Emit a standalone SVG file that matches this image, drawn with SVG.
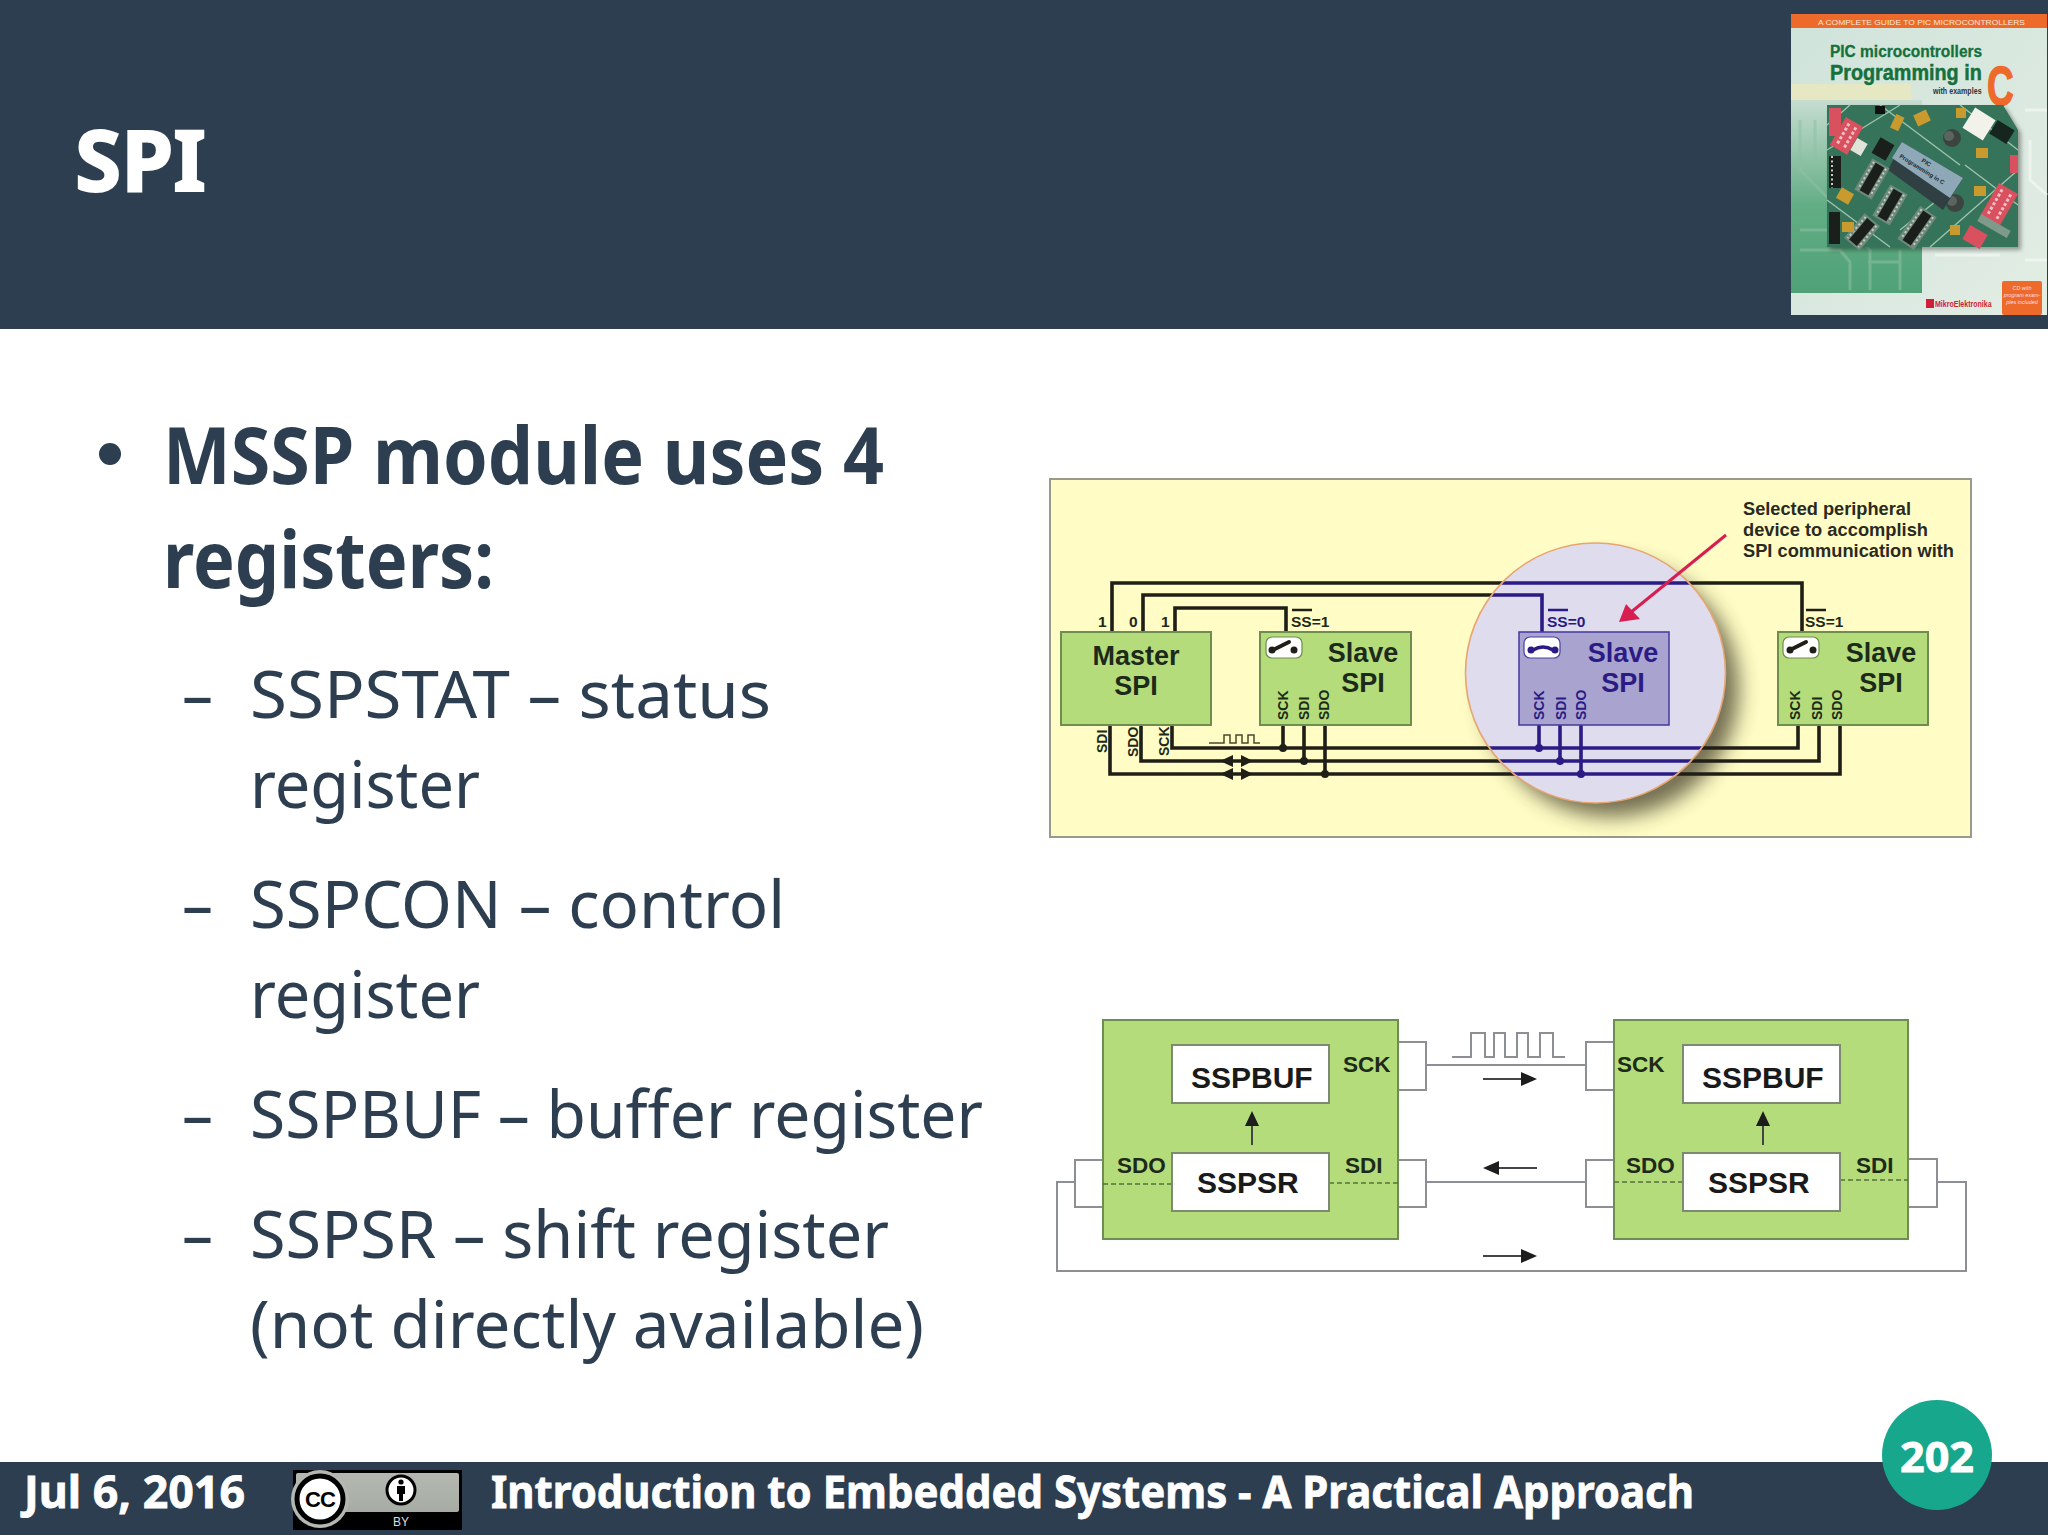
<svg xmlns="http://www.w3.org/2000/svg" xmlns:xlink="http://www.w3.org/1999/xlink" width="2048" height="1535" viewBox="0 0 2048 1535">
<style>
.sl{font-family:"Noto Sans","Open Sans",sans-serif;fill:#2c3e50}
.h{font-size:78px;font-weight:700}
.s{font-size:65px}
.ft{font-family:"Noto Sans","Open Sans",sans-serif;font-weight:700;fill:#fff;font-size:45px;stroke:#fff;stroke-width:.8px}
.a{font-family:"Liberation Sans",Arial,sans-serif;font-weight:700;fill:#1d2a1a}
.blk{fill:none;stroke:#1f1f17;stroke-width:3.6}
.blu{fill:none;stroke:#2b1b85;stroke-width:3.6}
.g{fill:#b5dc7a;stroke:#6e8d50;stroke-width:2}
.t27{font-size:27px;text-anchor:middle}
.t14{font-size:14px}
.t15{font-size:15.5px}
.t30{font-size:30px}
.t22{font-size:22.5px}
.wb{fill:#fff;stroke:#7d8a70;stroke-width:2}
.gl{fill:none;stroke:#8c9094;stroke-width:2}
.dl{fill:none;stroke:#55703a;stroke-width:1.6;stroke-dasharray:5 3}
.ar{fill:none;stroke:#444;stroke-width:2}
.hd{fill:#1d1d1d}
.sw{fill:#fff;stroke:#6e8d50;stroke-width:1.2}
.kn{fill:none;stroke:#1f1f17;stroke-width:4;stroke-linecap:round}
.dot{fill:#1f1f17}
.ic{fill:#1b1f1c}
.pin{fill:none;stroke:#c8ccc0;stroke-width:2;stroke-dasharray:2 2.5}
.rd{fill:#d9505f}
.sock{fill:#6f8a7c}
.yl{fill:#c99a2e}
.kb{fill:#3c4440}
.tr{fill:none;stroke:#8fc0a4;stroke-width:3;opacity:.55}
.bk{font-family:"Liberation Sans",Arial,sans-serif;font-weight:700}
</style>
<defs>
<path id="wires" d="M1112 632V583H1802V632M1143 632V595H1542V632M1175 632V608H1286V632M1172 725V748H1798V725M1141 725V761H1819V725M1110 725V774H1840V725M1283 725V748M1304 725V761M1325 725V774M1539 725V748M1560 725V761M1581 725V774"/>
<clipPath id="lensClip"><circle cx="1595.5" cy="673" r="129"/></clipPath>
<filter id="blur" x="-30%" y="-30%" width="160%" height="160%"><feGaussianBlur stdDeviation="10"/></filter>
<filter id="soft" x="-5%" y="-5%" width="110%" height="110%"><feGaussianBlur stdDeviation="2"/></filter>
<linearGradient id="bookBg" x1="0" y1="0" x2="1" y2="1"><stop offset="0" stop-color="#cfe3da"/><stop offset="1" stop-color="#e3ede4"/></linearGradient>
<linearGradient id="bookGreen" x1="0" y1="0" x2="0" y2="1"><stop offset="0" stop-color="#c6ddd0"/><stop offset="0.55" stop-color="#62ad84"/><stop offset="1" stop-color="#4fa177"/></linearGradient>
<linearGradient id="badgeGrad" x1="0" y1="0" x2="0" y2="1"><stop offset="0" stop-color="#b4b8b0"/><stop offset="1" stop-color="#a6aca4"/></linearGradient>
</defs>

<rect width="2048" height="1535" fill="#fff"/>
<rect id="header" width="2048" height="329" fill="#2c3e50"/>
<text class="ft" x="75" y="191" style="font-size:84px;stroke-width:2px" textLength="131" lengthAdjust="spacingAndGlyphs">SPI</text>

<g id="book">
<rect x="1791" y="14" width="256" height="301" fill="url(#bookBg)"/>
<rect x="1791" y="100" width="131" height="193" fill="url(#bookGreen)"/>
<path d="M1800 120V170L1830 200M1815 120V160M1800 230H1850L1870 250V290M1800 250H1840L1850 262V290M1868 262H1900M1900 250V290" class="tr"/>
<path d="M2025 110H2047M2030 140V180L2047 195M2025 260H2047M1935 255H2000" fill="none" stroke="#f4f8f4" stroke-width="3" opacity=".7"/>
<rect x="1791" y="84" width="120" height="16" fill="#e6e8c4"/>
<rect x="1791" y="14" width="256" height="14" fill="#ee6a2a"/>
<text class="bk" x="1818" y="25" font-size="8" fill="#f6e8d8" style="font-weight:400" textLength="207" lengthAdjust="spacingAndGlyphs">A COMPLETE GUIDE TO PIC MICROCONTROLLERS</text>
<text transform="translate(1830 57) scale(.91 1)" class="bk" font-size="17" fill="#15703c" stroke="#15703c" stroke-width=".3">PIC microcontrollers</text>
<text transform="translate(1830 79.5) scale(.88 1)" class="bk" font-size="22.5" fill="#15703c" stroke="#15703c" stroke-width=".5">Programming in</text>
<text transform="translate(1933 94) scale(.79 1)" class="bk" font-size="9" fill="#333">with examples</text>
<text transform="translate(1987 105) scale(.66 1)" class="bk" font-size="56" fill="#ee6a2a" stroke="#ee6a2a" stroke-width="1.5">C</text>
<polygon points="1827,105 2003,105 2018,130 2018,247 1827,247" fill="#000" opacity=".35" transform="translate(3,3)" filter="url(#soft)"/>
<polygon points="1827,105 2003,105 2018,130 2018,247 1827,247" fill="#35745a"/>
<g id="pcb">
<path d="M1827 150L1900 105M1880 105L1960 165M1960 105L2018 150M1827 200L1890 247M1930 247L2018 170M1850 105L1827 125M1965 165L2018 205M1900 230L1950 190" fill="none" stroke="#9cc4ac" stroke-width="1.4"/>
<rect x="1893" y="115" width="9" height="15" class="yl" transform="rotate(25 1897 122)"/>
<rect x="1915" y="112" width="14" height="12" class="yl" transform="rotate(-25 1922 118)"/>
<rect x="1956" y="108" width="10" height="10" class="yl"/>
<rect x="1967" y="112" width="24" height="24" fill="#f2f2ea" transform="rotate(32 1979 124)"/>
<rect x="1992" y="124" width="20" height="16" fill="#16261e" transform="rotate(32 2002 132)"/>
<rect x="1829" y="108" width="12" height="28" class="rd"/>
<g transform="rotate(30 1847 135)"><rect x="1837" y="120" width="20" height="32" class="rd"/><path d="M1843 124V148M1851 124V148" stroke="#f3c0c4" stroke-width="3" stroke-dasharray="3 2"/></g>
<rect x="1853" y="140" width="12" height="14" fill="#dfe3d8" transform="rotate(30 1859 147)"/>
<rect x="1875" y="106" width="10" height="8" fill="#111"/>
<circle cx="1952" cy="138" r="9" class="kb"/><circle cx="1949" cy="136" r="5" fill="#5c6460"/>
<circle cx="1955" cy="203" r="9" class="kb"/><circle cx="1952" cy="201" r="5" fill="#5c6460"/>
<polygon points="1902,142 1963,178 1943,210 1888,170" fill="#2f3f42"/>
<polygon points="1902,142 1963,178 1950,198 1892,158" fill="#8ea8b8"/>
<g transform="rotate(30 1872 179)"><rect x="1862" y="161" width="20" height="36" class="sock"/><rect x="1867" y="163" width="10" height="32" class="ic"/><path d="M1865 163V195M1879 163V195" class="pin"/></g>
<g transform="rotate(30 1890 205)"><rect x="1880" y="187" width="20" height="36" class="sock"/><rect x="1885" y="189" width="10" height="32" class="ic"/><path d="M1883 189V221M1897 189V221" class="pin"/></g>
<g transform="rotate(35 1917 228)"><rect x="1907" y="208" width="20" height="40" class="sock"/><rect x="1912" y="210" width="10" height="36" class="ic"/><path d="M1910 210V246M1924 210V246" class="pin"/></g>
<g transform="rotate(40 1862 232)"><rect x="1852" y="216" width="20" height="32" class="sock"/><rect x="1857" y="218" width="10" height="28" class="ic"/><path d="M1855 218V246M1869 218V246" class="pin"/></g>
<rect x="1829" y="156" width="12" height="32" class="ic"/><path d="M1832 156V188" class="pin"/>
<rect x="1829" y="212" width="11" height="32" class="ic"/>
<rect x="1875" y="140" width="16" height="18" class="ic" transform="rotate(30 1883 149)"/>
<g transform="rotate(30 1999 205)"><rect x="1988" y="186" width="22" height="38" class="rd"/><path d="M1994 190V220M2004 190V220" stroke="#f3c0c4" stroke-width="3" stroke-dasharray="3 2"/></g>
<rect x="1965" y="229" width="20" height="16" class="rd" transform="rotate(30 1975 237)"/>
<rect x="1977" y="222" width="34" height="8" fill="#7f9a8a" transform="rotate(30 1994 226)"/>
<rect x="2010" y="155" width="8" height="18" class="rd"/>
<rect x="1976" y="148" width="12" height="10" class="yl"/>
<rect x="1838" y="190" width="14" height="12" class="yl" transform="rotate(30 1845 196)"/>
<rect x="1842" y="222" width="12" height="10" class="yl"/>
<rect x="1974" y="186" width="12" height="10" class="yl"/>
<rect x="1950" y="225" width="10" height="10" class="yl"/>
</g>
<g transform="rotate(32 1921 171)"><text class="bk" x="1921" y="163" font-size="6" text-anchor="middle" fill="#1c2a30">PIC</text><text class="bk" x="1921" y="171" font-size="6" text-anchor="middle" fill="#1c2a30">Programming in C</text></g>
<rect x="1926" y="299" width="8" height="9" fill="#d01e38"/>
<text transform="translate(1935 307) scale(.74 1)" class="bk" font-size="9.5" fill="#d01e38">MikroElektronika</text>
<rect x="2002" y="281" width="40" height="34" rx="2" fill="#ee6a2a"/>
<g class="bk" font-size="5.4" fill="#fde" font-style="italic" text-anchor="middle" style="font-weight:400"><text x="2022" y="290">CD with</text><text x="2022" y="297">program exam-</text><text x="2022" y="304">ples included</text></g>
</g>

<g id="bullets">
<circle cx="110" cy="454" r="11" fill="#2c3e50"/>
<text class="sl h" x="163" y="484" textLength="721" lengthAdjust="spacingAndGlyphs">MSSP module uses 4</text>
<text class="sl h" x="163" y="588" textLength="331" lengthAdjust="spacingAndGlyphs">registers:</text>
<text class="sl s" x="182" y="718" textLength="31" lengthAdjust="spacingAndGlyphs">–</text>
<text class="sl s" x="250" y="718" textLength="521" lengthAdjust="spacingAndGlyphs">SSPSTAT – status</text>
<text class="sl s" x="250" y="808" textLength="230" lengthAdjust="spacingAndGlyphs">register</text>
<text class="sl s" x="182" y="928" textLength="31" lengthAdjust="spacingAndGlyphs">–</text>
<text class="sl s" x="250" y="928" textLength="535" lengthAdjust="spacingAndGlyphs">SSPCON – control</text>
<text class="sl s" x="250" y="1018" textLength="230" lengthAdjust="spacingAndGlyphs">register</text>
<text class="sl s" x="182" y="1138" textLength="31" lengthAdjust="spacingAndGlyphs">–</text>
<text class="sl s" x="250" y="1138" textLength="733" lengthAdjust="spacingAndGlyphs">SSPBUF – buffer register</text>
<text class="sl s" x="182" y="1258" textLength="31" lengthAdjust="spacingAndGlyphs">–</text>
<text class="sl s" x="250" y="1258" textLength="639" lengthAdjust="spacingAndGlyphs">SSPSR – shift register</text>
<text class="sl s" x="250" y="1348" textLength="674" lengthAdjust="spacingAndGlyphs">(not directly available)</text>
</g>

<g id="spi-selection">
<rect x="1050" y="479" width="921" height="358" fill="#fffdc5" stroke="#9a9a8c" stroke-width="2"/>
<circle cx="1611" cy="689" r="128" fill="#3a3520" opacity=".7" filter="url(#blur)"/>
<g id="connectors-top"><use xlink:href="#wires" href="#wires" class="blk"/>
<path d="M1209 743H1224V735H1230V743H1236V735H1242V743H1248V735H1254V743H1260" fill="none" stroke="#4a4a30" stroke-width="1.5"/>
<polygon points="1220,761 1233,755 1233,767" class="dot"/><polygon points="1253,761 1241,755 1241,767" class="dot"/>
<polygon points="1220,774 1233,768 1233,780" class="dot"/><polygon points="1253,774 1241,768 1241,780" class="dot"/>
<circle cx="1283" cy="748" r="4" class="dot"/><circle cx="1304" cy="761" r="4" class="dot"/><circle cx="1325" cy="774" r="4" class="dot"/>
</g>
<circle id="lens" cx="1595.5" cy="673" r="130" fill="#dfdcee" stroke="#e8a56f" stroke-width="1.6"/>
<g id="connectors-selected" clip-path="url(#lensClip)"><use xlink:href="#wires" href="#wires" class="blu"/>
<circle cx="1539" cy="748" r="4" fill="#2b1b85"/><circle cx="1560" cy="761" r="4" fill="#2b1b85"/><circle cx="1581" cy="774" r="4" fill="#2b1b85"/></g>

<g id="master-spi"><rect x="1061" y="632" width="150" height="93" class="g"/>
<text class="a t27" x="1136" y="665">Master</text><text class="a t27" x="1136" y="695">SPI</text>
<g class="a t15"><text x="1098" y="627">1</text><text x="1129" y="627">0</text><text x="1161" y="627">1</text></g>
<g class="a t14"><text transform="translate(1107 753) rotate(-90)">SDI</text><text transform="translate(1138 757) rotate(-90)">SDO</text><text transform="translate(1169 756) rotate(-90)">SCK</text></g></g>

<g id="slave-1"><rect x="1260" y="632" width="151" height="93" class="g"/>
<text class="a t27" x="1363" y="662">Slave</text><text class="a t27" x="1363" y="692">SPI</text>
<rect x="1266" y="637" width="36" height="21" rx="6" class="sw"/><path d="M1273 650L1289 642" class="kn"/><circle cx="1272" cy="650" r="3.5" class="dot"/><circle cx="1294" cy="650" r="3.5" class="dot"/>
<g class="a t14"><text transform="translate(1288 720) rotate(-90)">SCK</text><text transform="translate(1309 720) rotate(-90)">SDI</text><text transform="translate(1329 720) rotate(-90)">SDO</text></g>
<text class="a t15" x="1291" y="627">SS=1</text><path d="M1292 610H1312" stroke="#1f1f17" stroke-width="2.5"/></g>

<g id="slave-2"><rect x="1519" y="632" width="150" height="93" fill="#a9a3cf" stroke="#4a40a0" stroke-width="1.6"/>
<text class="a t27" x="1623" y="662" style="fill:#2b1b85">Slave</text><text class="a t27" x="1623" y="692" style="fill:#2b1b85">SPI</text>
<rect x="1524" y="637" width="36" height="21" rx="6" fill="#fff" stroke="#4a40a0" stroke-width="1.2"/><path d="M1533 650Q1543 644 1553 650" fill="none" stroke="#2b1b85" stroke-width="3.5"/><circle cx="1531" cy="650" r="3.5" fill="#2b1b85"/><circle cx="1555" cy="650" r="3.5" fill="#2b1b85"/>
<g class="a t14"><text transform="translate(1544 720) rotate(-90)" style="fill:#2b1b85">SCK</text><text transform="translate(1566 720) rotate(-90)" style="fill:#2b1b85">SDI</text><text transform="translate(1586 720) rotate(-90)" style="fill:#2b1b85">SDO</text></g>
<text class="a t15" x="1547" y="627" style="fill:#2b1b85">SS=0</text><path d="M1548 610H1568" stroke="#2b1b85" stroke-width="2.5"/></g>

<g id="slave-3"><rect x="1778" y="632" width="150" height="93" class="g"/>
<text class="a t27" x="1881" y="662">Slave</text><text class="a t27" x="1881" y="692">SPI</text>
<rect x="1783" y="637" width="36" height="21" rx="6" class="sw"/><path d="M1790 650L1806 642" class="kn"/><circle cx="1790" cy="650" r="3.5" class="dot"/><circle cx="1813" cy="650" r="3.5" class="dot"/>
<g class="a t14"><text transform="translate(1800 720) rotate(-90)">SCK</text><text transform="translate(1822 720) rotate(-90)">SDI</text><text transform="translate(1842 720) rotate(-90)">SDO</text></g>
<text class="a t15" x="1805" y="627">SS=1</text><path d="M1806 610H1826" stroke="#1f1f17" stroke-width="2.5"/></g>

<g id="note"><g class="a" font-size="17.5" style="fill:#2a2a20"><text x="1743" y="515" textLength="168" lengthAdjust="spacingAndGlyphs">Selected peripheral</text><text x="1743" y="536" textLength="185" lengthAdjust="spacingAndGlyphs">device to accomplish</text><text x="1743" y="557" textLength="211" lengthAdjust="spacingAndGlyphs">SPI communication with</text></g>
<path d="M1726 535L1630 613" stroke="#d81e50" stroke-width="3" fill="none"/><polygon points="1619,622 1626,604 1640,619" fill="#d81e50"/></g>
</g>

<g id="connectors-bottom">
<path d="M1426 1065H1586M1426 1182H1586M1075 1182H1057V1271H1966V1182H1937" class="gl"/>
<path d="M1452 1057H1471V1033H1485V1057H1494V1033H1505V1057H1517V1033H1528V1057H1540V1033H1553V1057H1565" fill="none" stroke="#8c9094" stroke-width="2"/>
<path d="M1398 1042H1426V1090H1398M1398 1160H1426V1207H1398M1103 1160H1075V1207H1103M1614 1042H1586V1090H1614M1614 1160H1586V1207H1614M1908 1159H1937V1207H1908" class="gl"/>
<path d="M1483 1079H1525M1495 1168H1537M1483 1256H1525" class="ar"/>
<polygon points="1537,1079 1521,1072 1521,1086" class="hd"/>
<polygon points="1483,1168 1499,1161 1499,1175" class="hd"/>
<polygon points="1537,1256 1521,1249 1521,1263" class="hd"/>
</g>

<g id="device-left"><rect x="1103" y="1020" width="295" height="219" class="g"/>
<path d="M1103 1184H1172M1329 1183H1398" class="dl"/>
<rect x="1172" y="1045" width="157" height="58" class="wb"/><rect x="1172" y="1153" width="157" height="58" class="wb"/>
<path d="M1252 1145V1120" stroke="#444" stroke-width="2"/><polygon points="1252,1111 1245,1126 1259,1126" class="hd"/>
<g class="a t30" style="fill:#1a1a1a"><text x="1191" y="1088">SSPBUF</text><text x="1197" y="1193">SSPSR</text></g>
<g class="a t22"><text x="1343" y="1072">SCK</text><text x="1117" y="1173">SDO</text><text x="1345" y="1173">SDI</text></g></g>

<g id="device-right"><rect x="1614" y="1020" width="294" height="219" class="g"/>
<path d="M1614 1182H1683M1840 1180H1908" class="dl"/>
<rect x="1683" y="1045" width="157" height="58" class="wb"/><rect x="1683" y="1153" width="157" height="58" class="wb"/>
<path d="M1763 1145V1120" stroke="#444" stroke-width="2"/><polygon points="1763,1111 1756,1126 1770,1126" class="hd"/>
<g class="a t30" style="fill:#1a1a1a"><text x="1702" y="1088">SSPBUF</text><text x="1708" y="1193">SSPSR</text></g>
<g class="a t22"><text x="1617" y="1072">SCK</text><text x="1626" y="1173">SDO</text><text x="1856" y="1173">SDI</text></g></g>

<g id="footer"><rect y="1462" width="2048" height="73" fill="#2c3e50"/>
<text class="ft" x="24" y="1508" textLength="221" lengthAdjust="spacingAndGlyphs">Jul 6, 2016</text>
<text class="ft" x="491" y="1508" textLength="1203" lengthAdjust="spacingAndGlyphs">Introduction to Embedded Systems - A Practical Approach</text>
</g>
<g id="cc-badge"><rect x="293" y="1470" width="169" height="60" fill="#000"/>
<rect x="296" y="1473" width="163" height="39" rx="2" fill="url(#badgeGrad)"/>
<circle cx="320" cy="1499" r="29" fill="#b4b8b0"/>
<circle cx="320" cy="1499" r="23" fill="#fff" stroke="#000" stroke-width="5"/>
<text x="320" y="1507" text-anchor="middle" font-family="Liberation Sans,sans-serif" font-weight="700" font-size="22" letter-spacing="-1" fill="#000">CC</text>
<circle cx="401" cy="1490" r="14" fill="#fff" stroke="#000" stroke-width="3"/>
<circle cx="401" cy="1482" r="2.6" fill="#000"/><path d="M397 1486H405V1494H403V1501H399V1494H397Z" fill="#000"/>
<text x="401" y="1526" text-anchor="middle" font-family="Liberation Sans,sans-serif" font-size="12" fill="#ddd">BY</text></g>
<g id="page-number"><circle cx="1937" cy="1455" r="55" fill="#17a78c"/>
<text class="ft" x="1937" y="1472" text-anchor="middle" style="font-size:42px" textLength="74" lengthAdjust="spacingAndGlyphs">202</text></g>
</svg>
